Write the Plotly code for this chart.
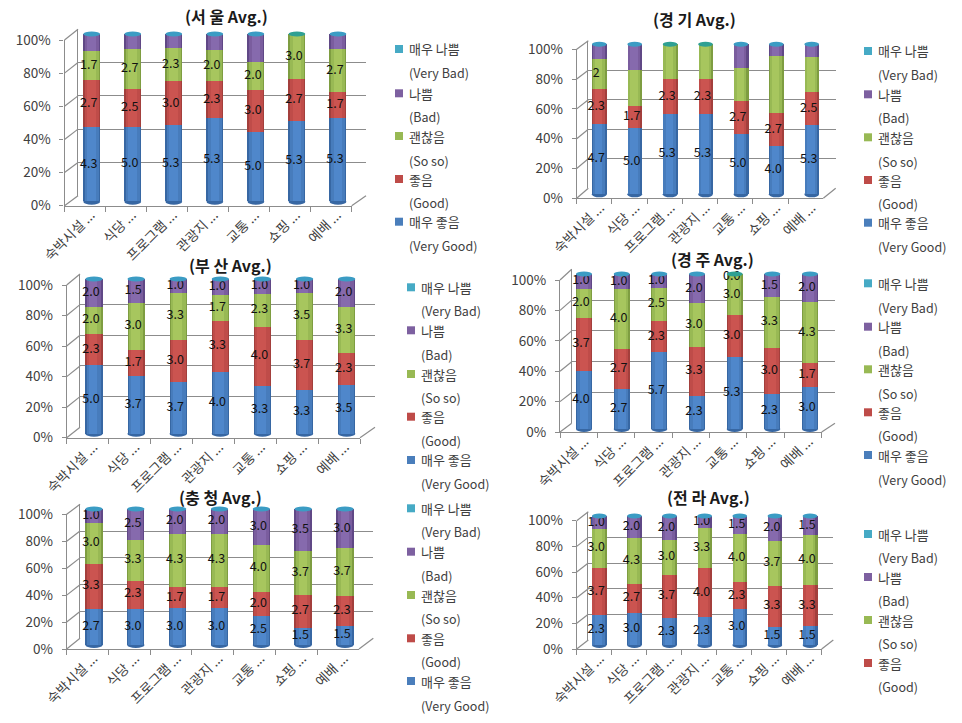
import numpy as np
import plotly.graph_objects as go

categories = ["숙박시설 ...", "식당 ...", "프로그램 ...", "관광지 ...", "교통 ...", "쇼핑 ...", "예배 ..."]
series_names = ["매우 좋음", "좋음", "괜찮음", "나쁨", "매우 나쁨"]
series_english = ["(Very Good)", "(Good)", "(So so)", "(Bad)", "(Very Bad)"]
y_ticks = [0, 20, 40, 60, 80, 100]
y_tick_labels = ["0%", "20%", "40%", "60%", "80%", "100%"]

very_bad = [0, 0, 0, 0, 0, 0, 0]

seoul_very_good = [4.3, 5.0, 5.3, 5.3, 5.0, 5.3, 5.3]
seoul_good = [2.7, 2.5, 3.0, 2.3, 3.0, 2.7, 1.7]
seoul_so_so = [1.7, 2.7, 2.3, 2.0, 2.0, 3.0, 2.7]
seoul_bad = [1.0, 1.0, 1.0, 1.0, 2.0, 0.0, 1.0]

gyeonggi_very_good = [4.7, 5.0, 5.3, 5.3, 5.0, 4.0, 5.3]
gyeonggi_good = [2.3, 1.7, 2.3, 2.3, 2.7, 2.7, 2.5]
gyeonggi_so_so = [2.0, 2.7, 2.3, 2.3, 2.7, 4.7, 2.7]
gyeonggi_bad = [1.0, 2.0, 0.0, 0.0, 2.0, 1.0, 1.0]

busan_very_good = [5.0, 3.7, 3.7, 4.0, 3.3, 3.3, 3.5]
busan_good = [2.3, 1.7, 3.0, 3.3, 4.0, 3.7, 2.3]
busan_so_so = [2.0, 3.0, 3.3, 1.7, 2.3, 3.5, 3.3]
busan_bad = [2.0, 1.5, 1.0, 1.0, 1.0, 1.0, 2.0]

gyeongju_very_good = [4.0, 2.7, 5.7, 2.3, 5.3, 2.3, 3.0]
gyeongju_good = [3.7, 2.7, 2.3, 3.3, 3.0, 3.0, 1.7]
gyeongju_so_so = [2.0, 4.0, 2.5, 3.0, 3.0, 3.3, 4.3]
gyeongju_bad = [1.0, 1.0, 1.0, 2.0, 0.0, 1.5, 2.0]

chungcheong_very_good = [2.7, 3.0, 3.0, 3.0, 2.5, 1.5, 1.5]
chungcheong_good = [3.3, 2.3, 1.7, 1.7, 2.0, 2.7, 2.3]
chungcheong_so_so = [3.0, 3.3, 4.3, 4.3, 4.0, 3.7, 3.7]
chungcheong_bad = [1.0, 2.5, 2.0, 2.0, 3.0, 3.5, 3.0]

jeolla_very_good = [2.3, 3.0, 2.3, 2.3, 3.0, 1.5, 1.5]
jeolla_good = [3.7, 2.7, 3.7, 4.0, 2.3, 3.3, 3.3]
jeolla_so_so = [3.0, 4.3, 3.0, 3.3, 4.0, 3.7, 4.0]
jeolla_bad = [1.0, 2.0, 2.0, 1.0, 1.5, 2.0, 1.5]

# colours: base (edge of the cylinder), mid, highlight
C_BASE = ["#3767A3", "#A33F3C", "#7E9D41", "#604886", "#3690AC"]
C_MID = ["#477CBC", "#BF4C49", "#98B954", "#7A5D9E", "#46AAC5"]
C_HI = ["#4F87CB", "#CB5450", "#A7C65E", "#866AAD", "#55BBD6"]
C_SWATCH = ["#4A7EBB", "#BE4B48", "#98B954", "#7D60A0", "#46AAC5"]
GRID = "#8C8C8C"
FONT = "Noto Sans CJK KR"
W, H = 962, 723

# panel geometry, in page pixels
panels = [
    dict(title="(서 울 Avg.)", values=[seoul_very_good, seoul_good, seoul_so_so, seoul_bad],
         labels=[True, True, True, False],
         front=(64.5, 351.7, 205.7, 40), back=(78, 366, 195.7, 29.3),
         bars=(91.7, 338, 201.7, 34, 16.7), title_xy=(226.7, 15.7),
         lx=395, rows=[245.7, 202, 160, 116.7, 72.7], first=[221.7, 179, 136, 93.3, 49]),
    dict(title="(경 기 Avg.)", values=[gyeonggi_very_good, gyeonggi_good, gyeonggi_so_so, gyeonggi_bad],
         labels=[True, True, ["2", "", "", "", "", "", ""], False],
         front=(576.7, 823.3, 198.3, 49.3), back=(588.3, 835.7, 188.3, 40.7),
         bars=(599.3, 811.7, 194.3, 44.3, 14.7), title_xy=(694, 19.3),
         lx=864, rows=[246.7, 203.3, 161, 117.7, 75], first=[222.7, 180, 137.3, 94.3, 51]),
    dict(title="(부 산 Avg.)", values=[busan_very_good, busan_good, busan_so_so, busan_bad],
         labels=[True, True, True, True],
         front=(66.7, 360, 437.7, 285), back=(80, 375, 427.3, 274),
         bars=(94, 346.7, 433.7, 279, 17.3), title_xy=(230, 265),
         lx=407, rows=[483.3, 440.7, 397.3, 354, 310.7], first=[460, 416.7, 374, 330.3, 287.3]),
    dict(title="(경 주 Avg.)", values=[gyeongju_very_good, gyeongju_good, gyeongju_so_so, gyeongju_bad],
         labels=[True, True, True, True],
         front=(560, 821.7, 432, 280), back=(571.7, 835, 423.3, 269.3),
         bars=(584, 810, 429, 274, 16), title_xy=(712.3, 259),
         lx=864, rows=[479, 435.7, 393.3, 350, 307.3], first=[455, 412.3, 369.3, 326.7, 283.3]),
    dict(title="(충 청 Avg.)", values=[chungcheong_very_good, chungcheong_good, chungcheong_so_so, chungcheong_bad],
         labels=[True, True, True, True],
         front=(66.7, 359, 649, 514.3), back=(80, 373.3, 638.3, 504.3),
         bars=(94, 345, 645, 509, 17.3), title_xy=(220.7, 496.7),
         lx=407, rows=[705, 661.7, 618.3, 575, 531.7], first=[681, 638.3, 595, 551.7, 508.3]),
    dict(title="(전 라 Avg.)", values=[jeolla_very_good, jeolla_good, jeolla_so_so, jeolla_bad],
         labels=[True, True, True, True],
         front=(576.7, 821.7, 649, 520.7), back=(588.3, 833.3, 640, 511.7),
         bars=(599.3, 810, 645, 516, 14.7), title_xy=(708.3, 497.3),
         lx=864, rows=[None, 686.7, 643.7, 600.7, 557.7], first=[None, 663, 620, 577, 534]),
]

fig = go.Figure()
layout = dict(
    width=W, height=H, margin=dict(l=0, r=0, t=0, b=0, pad=0, autoexpand=False),
    paper_bgcolor="white", plot_bgcolor="rgba(0,0,0,0)", showlegend=False,
    barmode="stack", barnorm="percent", bargap=0,
    font=dict(family=FONT, color="#404040", size=13), hovermode=False,
)
shapes, annotations = [], []
axis_n = [0]


def px(x):
    return x / W


def py(y):
    return 1 - y / H


def new_axes(xdom, ydom, xax, yax):
    axis_n[0] += 1
    n = axis_n[0]
    sx = "" if n == 1 else str(n)
    layout["xaxis" + sx] = dict(domain=xdom, anchor="y" + sx, **xax)
    layout["yaxis" + sx] = dict(domain=ydom, anchor="x" + sx, **yax)
    return "x" + sx, "y" + sx


hidden_x = dict(type="category", categoryorder="array", categoryarray=categories,
                range=[-0.5, 6.5], showgrid=False, showline=False, showticklabels=False,
                ticks="", zeroline=False, fixedrange=True)
hidden_y = dict(showgrid=False, showline=False, showticklabels=False, ticks="",
                zeroline=False, fixedrange=True)


def placeholder(xa, ya):
    fig.add_trace(go.Scatter(x=categories, y=[None] * 7, xaxis=xa, yaxis=ya, showlegend=False,
                             mode="markers", opacity=0))


for p in panels:
    fx0, fx1, fy0, fy100 = p["front"]
    bx0, bx1, by0, by100 = p["back"]
    c0, c6, b0, b100, bw = p["bars"]
    pitch = (c6 - c0) / 6
    vals = [np.array(v, dtype=float) for v in p["values"]] + [np.array(very_bad, dtype=float)]
    totals = sum(vals)
    pct = [v / totals * 100 for v in vals]

    # back wall gridlines
    xa, ya = new_axes([px(bx0), px(bx1)], [py(by0), py(by100)], hidden_x,
                      dict(range=[0, 100], tickmode="array", tickvals=y_ticks, showgrid=True,
                           gridcolor=GRID, gridwidth=1.3, showline=True, linecolor=GRID,
                           linewidth=1.3, showticklabels=False, ticks="", zeroline=False,
                           fixedrange=True))
    placeholder(xa, ya)

    # front axes: axis lines, ticks and percent labels
    xa, ya = new_axes([px(fx0), px(fx1)], [py(fy0), py(fy100)],
                      dict(type="category", categoryorder="array", categoryarray=categories,
                           range=[-0.5, 6.5], tickson="boundaries", ticks="outside", ticklen=5,
                           tickcolor=GRID, tickwidth=1.2, showline=True, linecolor=GRID,
                           linewidth=1.3, showticklabels=False, showgrid=False, zeroline=False,
                           fixedrange=True),
                      dict(range=[0, 100], tickmode="array", tickvals=y_ticks,
                           ticktext=y_tick_labels, ticks="outside", ticklen=4, tickcolor=GRID,
                           tickwidth=1.2, ticklabelstandoff=6, showline=True, linecolor=GRID,
                           linewidth=1.3, showgrid=False, zeroline=False,
                           tickfont=dict(size=13.5, family=FONT, color="#404040"),
                           fixedrange=True))
    placeholder(xa, ya)

    # category labels sit a little to the right of the tick centres in the reference
    xa, ya = new_axes([px(fx0 + 6), px(fx1 + 6)], [py(fy0 - 2), py(fy100)],
                      dict(type="category", categoryorder="array", categoryarray=categories,
                           range=[-0.5, 6.5], ticks="", showline=False, tickangle=-45,
                           showgrid=False, zeroline=False, automargin=False,
                           tickfont=dict(size=13.5, family=FONT, color="#404040"),
                           fixedrange=True),
                      dict(hidden_y, range=[0, 100]))
    placeholder(xa, ya)

    # side wall and floor diagonals
    for t in y_ticks:
        fy = fy0 + (fy100 - fy0) * t / 100
        by = by0 + (by100 - by0) * t / 100
        shapes.append(dict(type="line", xref="paper", yref="paper", layer="below",
                           x0=px(fx0), y0=py(fy), x1=px(bx0), y1=py(by),
                           line=dict(color=GRID, width=1.2)))
    shapes.append(dict(type="line", xref="paper", yref="paper", layer="below",
                       x0=px(fx1), y0=py(fy0), x1=px(bx1), y1=py(by0),
                       line=dict(color=GRID, width=1.2)))

    # cylinders: three nested bar layers give the round shading
    span = b0 - b100
    extra = 4.0  # percent of head room so the end caps are not clipped
    ydom = [py(b0 + span * extra / 100), py(b100 - span * extra / 100)]
    xdom = [px(c0 - pitch / 2), px(c6 + pitch / 2)]
    yr = dict(hidden_y, range=[-extra, 100 + extra])
    first_layer = None
    for frac, colours, offs in [(1.0, C_BASE, 0.0), (0.84, C_MID, -0.3), (0.5, C_HI, -0.5)]:
        w = bw / pitch * frac
        xa, ya = new_axes([xdom[0] + px(offs), xdom[1] + px(offs)], ydom, hidden_x, yr)
        if first_layer is None:
            first_layer = (xa, ya)
            for i in range(7):
                shapes.append(dict(type="circle", xref=xa, yref=ya, layer="below",
                                   ysizemode="pixel", yanchor=0,
                                   x0=i - w / 2, x1=i + w / 2, y0=-3, y1=3,
                                   fillcolor=C_BASE[0], line=dict(width=0)))
        for s in range(5):
            fig.add_trace(go.Bar(x=categories, y=vals[s].tolist(), name=series_names[s],
                                 width=w, marker=dict(color=colours[s], line=dict(width=0)),
                                 xaxis=xa, yaxis=ya, showlegend=False))
    # top caps
    w = bw / pitch
    for i in range(7):
        cap = "#3B9CC4" if p["values"][3][i] > 0 else "#2FA093"
        shapes.append(dict(type="circle", xref=first_layer[0], yref=first_layer[1], layer="above",
                           ysizemode="pixel", yanchor=100, x0=i - w / 2, x1=i + w / 2,
                           y0=-2.5, y1=2.5, fillcolor=cap, line=dict(width=0)))

    # value labels, slightly left of the bar axis as in the reference
    xa, ya = new_axes([xdom[0] - px(3), xdom[1] - px(3)], ydom, hidden_x, yr)
    cum = np.zeros(7)
    for s in range(4):
        mid = cum + pct[s] / 2
        cum = cum + pct[s]
        spec = p["labels"][s]
        if spec is True:
            text = [f"{v:.1f}" for v in vals[s]]
        elif spec is False:
            text = [""] * 7
        else:
            text = spec
        # a zero value is blank, except the one "0.0" the reference prints in 경주
        if p["title"] != "(경 주 Avg.)":
            text = [t if vals[s][k] > 0 else "" for k, t in enumerate(text)]
        ypos = np.minimum(mid, 98.0)
        fig.add_trace(go.Scatter(x=categories, y=ypos.tolist(), text=text, mode="text",
                                 name=series_names[s], textposition="middle center",
                                 cliponaxis=False,
                                 textfont=dict(size=12.5, family=FONT, color="#111111"),
                                 xaxis=xa, yaxis=ya, showlegend=False))

    # title
    annotations.append(dict(text="<b>" + p["title"] + "</b>", xref="paper", yref="paper",
                            x=px(p["title_xy"][0]), y=py(p["title_xy"][1]), showarrow=False,
                            xanchor="center", yanchor="middle",
                            font=dict(size=16, family=FONT, color="#1a1a1a")))
    # legend
    for s in range(5):
        if p["first"][s] is None:
            continue
        yy = p["first"][s]
        shapes.append(dict(type="rect", xref="paper", yref="paper", layer="above",
                           x0=px(p["lx"]), x1=px(p["lx"] + 8), y0=py(yy - 4), y1=py(yy + 4),
                           fillcolor=C_SWATCH[s], line=dict(width=0)))
        annotations.append(dict(text=series_names[s], xref="paper", yref="paper",
                                x=px(p["lx"] + 12), y=py(yy), showarrow=False, xanchor="left",
                                yanchor="middle", font=dict(size=13, family=FONT, color="#404040")))
        annotations.append(dict(text=series_english[s], xref="paper", yref="paper",
                                x=px(p["lx"] + 12), y=py(p["rows"][s]), showarrow=False,
                                xanchor="left", yanchor="middle",
                                font=dict(size=12.5, family=FONT, color="#404040")))

layout["shapes"] = shapes
layout["annotations"] = annotations
fig.update_layout(**layout)
fig.write_html("out.html", config=dict(displayModeBar=False),
               post_script="document.body.style.margin='0';")
